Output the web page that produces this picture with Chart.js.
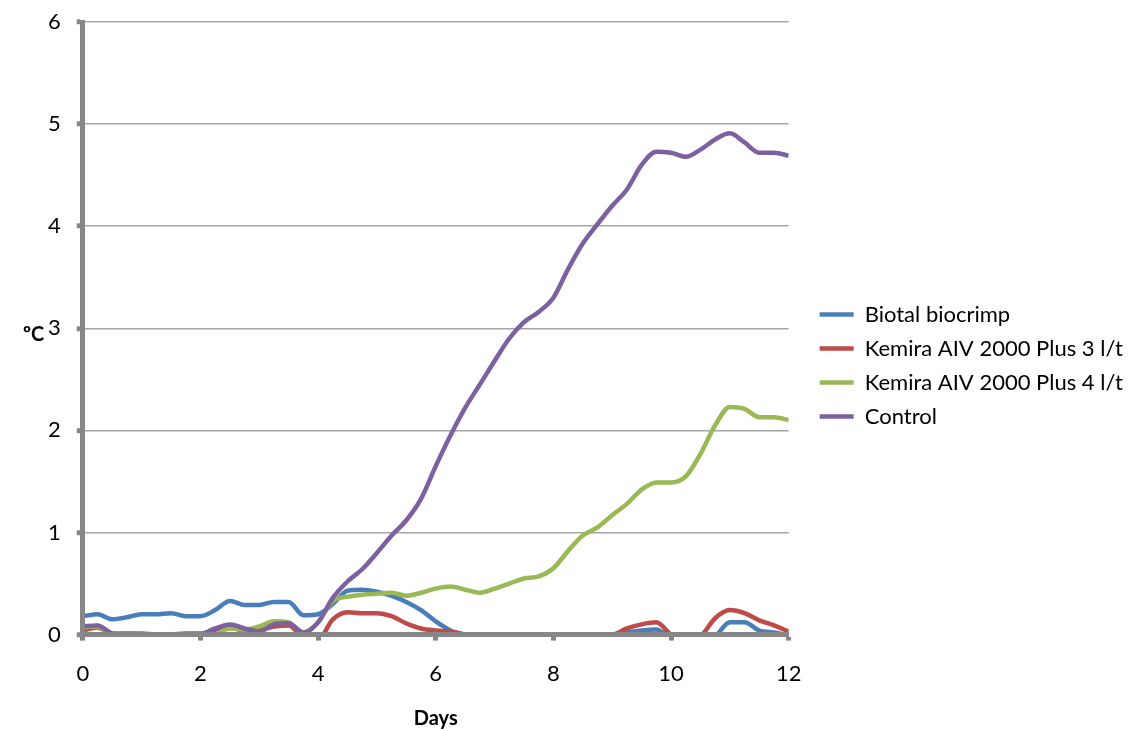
<!DOCTYPE html>
<html>
<head>
<meta charset="utf-8">
<script src="https://cdn.jsdelivr.net/npm/chart.js@4.4.1/dist/chart.umd.min.js"></script>
<style>
  body { margin: 0; background: #fff; }
  #wrap { width: 1129px; height: 731px; position: relative; }
</style>
</head>
<body>
<div id="wrap"><canvas id="tempChart"></canvas></div>
<script>
// days, every quarter day
const days = [0, 0.25, 0.5, 0.75, 1, 1.25, 1.5, 1.75, 2, 2.25, 2.5, 2.75, 3, 3.25, 3.5, 3.75,
    4, 4.25, 4.5, 4.75, 5, 5.25, 5.5, 5.75, 6, 6.25, 6.5, 6.75, 7, 7.25, 7.5, 7.75,
    8, 8.25, 8.5, 8.75, 9, 9.25, 9.5, 9.75, 10, 10.25, 10.5, 10.75, 11, 11.25, 11.5, 11.75, 12];

const biotal = [0.18, 0.2, 0.15, 0.17, 0.2, 0.2, 0.21, 0.18, 0.18, 0.24, 0.33, 0.29, 0.29, 0.32, 0.32, 0.19,
    0.2, 0.3, 0.43, 0.44, 0.42, 0.38, 0.32, 0.24, 0.13, 0.04, -0.04, -0.08, -0.1, -0.1, -0.1, -0.1,
    -0.1, -0.06, -0.02, 0.0, 0.0, 0.02, 0.04, 0.05, -0.04, -0.1, -0.1, -0.02, 0.12, 0.12, 0.04, 0.02, -0.01];

const kemira3 = [0.04, 0.07, 0.01, 0.01, 0.01, 0.0, 0.0, 0.01, 0.01, 0.04, 0.08, 0.03, 0.04, 0.08, 0.09, -0.03,
    -0.05, 0.15, 0.22, 0.21, 0.21, 0.18, 0.11, 0.06, 0.04, 0.03, 0.0, -0.05, -0.06, -0.06, -0.06, -0.06,
    -0.06, -0.04, -0.01, 0.0, 0.0, 0.06, 0.1, 0.12, 0.0, -0.08, -0.02, 0.16, 0.24, 0.21, 0.14, 0.09, 0.03];

const kemira4 = [0.07, 0.08, 0.0, -0.04, -0.06, -0.06, -0.06, -0.06, -0.05, 0.0, 0.06, 0.05, 0.08, 0.13, 0.12, 0.02,
    0.12, 0.33, 0.37, 0.39, 0.4, 0.41, 0.38, 0.41, 0.45, 0.47, 0.44, 0.41, 0.45, 0.5, 0.55, 0.57,
    0.65, 0.82, 0.97, 1.05, 1.17, 1.28, 1.42, 1.49, 1.49, 1.55, 1.77, 2.05, 2.23, 2.21, 2.13, 2.13, 2.1];

const control = [0.08, 0.09, 0.01, -0.02, -0.03, -0.04, -0.04, -0.02, 0.0, 0.06, 0.1, 0.06, 0.03, 0.1, 0.11, 0.02,
    0.12, 0.36, 0.52, 0.64, 0.8, 0.97, 1.12, 1.33, 1.65, 1.95, 2.22, 2.45, 2.68, 2.9, 3.06, 3.16,
    3.3, 3.58, 3.83, 4.02, 4.2, 4.36, 4.6, 4.73, 4.72, 4.68, 4.75, 4.85, 4.91, 4.82, 4.72, 4.72, 4.69];

const seriesNames = ['Biotal biocrimp', 'Kemira AIV 2000 Plus 3 l/t', 'Kemira AIV 2000 Plus 4 l/t', 'Control'];
const xTicks = [0, 2, 4, 6, 8, 10, 12];
const yTicks = [0, 1, 2, 3, 4, 5, 6];

const FONT = 'Lato, Calibri, Carlito, sans-serif';
const AXIS_GREY = '#878787';

function points(values) {
    return days.map((d, i) => ({ x: d, y: values[i] }));
}

function line(label, values, color, order) {
    return {
        label: label,
        data: points(values),
        borderColor: color,
        backgroundColor: color,
        borderWidth: 4.5,
        pointRadius: 0,
        tension: 0.4,
        cubicInterpolationMode: 'monotone',
        clip: 0,
        order: order
    };
}

// horizontal y axis title, drawn next to the axis
const yTitle = {
    id: 'yTitle',
    afterDraw(chart) {
        const ctx = chart.ctx;
        ctx.save();
        ctx.font = 'bold 20px ' + FONT;
        ctx.fillStyle = '#000';
        ctx.textAlign = 'left';
        ctx.textBaseline = 'middle';
        ctx.fillText('ºC', 23, 335);
        ctx.restore();
    }
};

new Chart(document.getElementById('tempChart'), {
    type: 'line',
    data: {
        datasets: [
            line(seriesNames[0], biotal, '#4a7ebb', 4),
            line(seriesNames[1], kemira3, '#be4b48', 3),
            line(seriesNames[2], kemira4, '#98b954', 2),
            line(seriesNames[3], control, '#7d60a0', 1)
        ]
    },
    options: {
        responsive: true,
        maintainAspectRatio: false,
        animation: false,
        layout: { padding: { left: 32, top: 0, right: -4, bottom: 0 } },
        plugins: {
            tooltip: { enabled: false },
            legend: {
                position: 'right',
                align: 'center',
                maxWidth: 420,
                labels: {
                    font: { family: FONT, size: 22 },
                    color: '#000',
                    usePointStyle: true,
                    pointStyle: 'line',
                    pointStyleWidth: 34,
                    padding: 12,
                    sort: (a, b) => a.datasetIndex - b.datasetIndex
                }
            }
        },
        scales: {
            x: {
                type: 'linear',
                min: 0,
                max: 12,
                afterBuildTicks: axis => { axis.ticks = xTicks.map(v => ({ value: v })); },
                grid: {
                    drawOnChartArea: false,
                    drawTicks: true,
                    tickLength: 6,
                    tickColor: AXIS_GREY,
                    tickWidth: 5
                },
                border: { display: true, color: AXIS_GREY, width: 5, z: 1 },
                ticks: {
                    font: { family: FONT, size: 22 },
                    color: '#000',
                    padding: 20,
                    maxRotation: 0
                },
                title: {
                    display: true,
                    text: 'Days',
                    font: { family: FONT, size: 20, weight: 'bold' },
                    color: '#000',
                    padding: { top: 0, bottom: 0 }
                }
            },
            y: {
                min: 0,
                max: 6,
                afterBuildTicks: axis => { axis.ticks = yTicks.map(v => ({ value: v })); },
                afterFit: axis => { axis.paddingTop = 22; axis.paddingBottom = 0; },
                grid: {
                    color: '#a5a5a5',
                    lineWidth: 1.5,
                    drawTicks: true,
                    tickLength: 6,
                    tickColor: AXIS_GREY,
                    tickWidth: 5
                },
                border: { display: true, color: AXIS_GREY, width: 5, z: 1 },
                ticks: {
                    font: { family: FONT, size: 22 },
                    color: '#000',
                    padding: 16
                }
            },
            // empty spacer between plot and legend
            gap: {
                type: 'linear',
                position: 'right',
                display: true,
                grid: { display: false, drawTicks: false },
                border: { display: false },
                ticks: { display: false },
                afterFit: axis => { axis.width = 19; }
            }
        }
    },
    plugins: [yTitle]
});
</script>
</body>
</html>
